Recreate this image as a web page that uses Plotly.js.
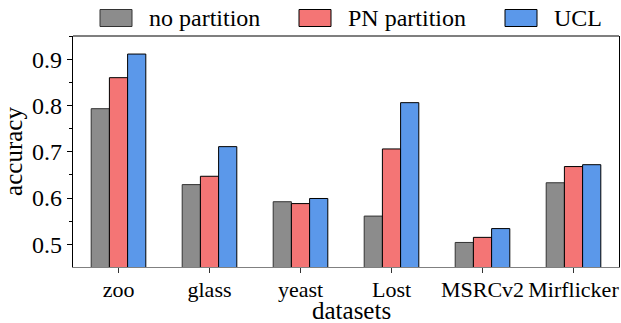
<!DOCTYPE html>
<html>
<head>
<meta charset="utf-8">
<script src="https://cdn.plot.ly/plotly-3.0.1.min.js"></script>
<style>html,body{margin:0;padding:0;background:#fff;}#chart{width:621px;height:323px;}</style>
</head>
<body>
<div id="chart"></div>
<script>
const categories = ["zoo", "glass", "yeast", "Lost", "MSRCv2", "Mirflicker"];
const seriesNames = ["no partition", "PN partition", "UCL"];
const noPartition = [0.793, 0.629, 0.592, 0.561, 0.504, 0.633];
const pnPartition = [0.860, 0.647, 0.588, 0.706, 0.515, 0.668];
const ucl = [0.911, 0.711, 0.599, 0.806, 0.534, 0.672];
const yTickVals = [0.5, 0.6, 0.7, 0.8, 0.9];
const yTickText = ["0.5", "0.6", "0.7", "0.8", "0.9"];
const xTitle = "datasets";
const yTitle = "accuracy";

const colors = ["#8c8c8c", "#f47575", "#5b98ea"];
const edgeColors = ["#333333", "#000000", "#000000"];
const values = [noPartition, pnPartition, ucl];
const font = "Liberation Serif, Times New Roman, serif";

const traces = values.map((v, i) => ({
  type: "bar",
  name: seriesNames[i],
  x: categories,
  y: v,
  marker: {color: colors[i], line: {color: edgeColors[i], width: 1}},
  showlegend: false,
  hoverinfo: "skip"
}));

// custom legend with large patches (matplotlib style)
const legX = [100, 299, 505];
const shapes = [];
const annotations = [];
seriesNames.forEach((n, i) => {
  shapes.push({type: "rect", xref: "paper", yref: "paper",
    x0: (legX[i] - 73) / 546, x1: (legX[i] + 32 - 73) / 546,
    y0: (267 - 26.5) / 231, y1: (267 - 9.5) / 231,
    fillcolor: colors[i], line: {color: edgeColors[i], width: 1}});
  annotations.push({xref: "paper", yref: "paper",
    x: (legX[i] + 47 - 73) / 546, y: (267 - 18) / 231,
    xanchor: "left", yanchor: "middle", showarrow: false,
    text: n, font: {family: font, size: 24, color: "#000"}});
});
// x-axis title placed as annotation to sit tight like the reference
annotations.push({xref: "paper", yref: "paper", x: 0.5, y: (267 - 323) / 231,
  xanchor: "center", yanchor: "bottom", yshift: -2, xshift: 5, showarrow: false, borderpad: 0,
  text: xTitle, font: {family: font, size: 25, color: "#000"}});
// top border
shapes.push({type: "line", xref: "paper", yref: "paper", x0: 0, x1: 1, y0: 1, y1: 1,
  line: {color: "#000", width: 1.2}});

const layout = {
  width: 621, height: 323,
  margin: {l: 73, r: 2, t: 36, b: 56},
  paper_bgcolor: "#fff", plot_bgcolor: "#fff",
  barmode: "group", bargap: 0.4, bargroupgap: 0,
  font: {family: font, color: "#000"},
  xaxis: {
    range: [-0.5, 5.5],
    showline: true, linecolor: "#808080", linewidth: 1.2,
    ticks: "outside", ticklen: 5, tickcolor: "#333", tickwidth: 1,
    ticklabelstandoff: -3,
    tickfont: {family: font, size: 22, color: "#000"},
    showgrid: false, zeroline: false, fixedrange: true
  },
  yaxis: {
    range: [0.451, 0.95],
    tickvals: yTickVals, ticktext: yTickText,
    showline: true, linecolor: "#000", linewidth: 1.2, mirror: true,
    ticks: "outside", ticklen: 5, tickcolor: "#000", tickwidth: 1,
    minor: {dtick: 0.05, tick0: 0.45, ticks: "outside", ticklen: 3, tickcolor: "#000", showgrid: false},
    tickfont: {family: font, size: 24, color: "#000"},
    showgrid: false, zeroline: false, fixedrange: true,
    title: {text: yTitle, font: {family: font, size: 25, color: "#000"}, standoff: 2}
  },
  shapes: shapes,
  annotations: annotations,
  showlegend: false
};

Plotly.newPlot("chart", traces, layout, {staticPlot: true, displayModeBar: false});
</script>
</body>
</html>
